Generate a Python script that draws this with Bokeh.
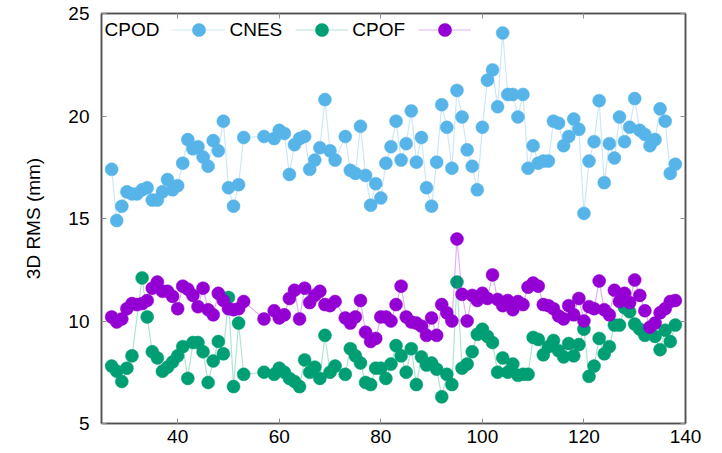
from bokeh.plotting import figure
from bokeh.models import (LinearAxis, FixedTicker, Range1d, Legend, LegendItem,
                          Label, CustomJSTickFormatter)
from bokeh.core.properties import value
from bokeh.embed import file_html
from bokeh.resources import INLINE

# ---------------- data ----------------
days = (list(range(27, 54)) + [57] + list(range(59, 72)) + list(range(73, 139)))
days_cnes = [d for d in days if d != 32]

cpod = [17.4, 14.9, 15.6, 16.3, 16.2, 16.2, 16.4, 16.5, 15.9, 15.9,
        16.3, 16.9, 16.4, 16.6, 17.7, 18.85, 18.4, 18.5, 18.0, 17.55,
        18.8, 18.3, 19.75, 16.5, 15.6, 16.65, 18.95,
        19.0,
        18.9, 19.3, 19.15, 17.15, 18.6, 18.9, 19.0, 17.4, 17.85, 18.45, 20.8, 18.3, 17.85,
        19.0, 17.35, 17.2, 19.5, 17.1, 15.65, 16.7, 16.0, 17.7, 18.5,
        19.75, 17.85, 18.65, 20.25, 17.75, 18.95, 16.5, 15.6, 17.75, 20.55,
        19.45, 17.45, 21.25, 19.95, 18.35, 17.55, 16.4, 19.45, 21.75, 22.25,
        20.45, 24.05, 21.05, 21.05, 19.95, 21.05, 17.45, 18.55, 17.7, 17.8,
        17.8, 19.75, 19.65, 18.55, 19.0, 19.85, 19.35, 15.25, 17.8, 18.75,
        20.75, 16.75, 18.65, 17.95, 19.95, 18.75, 19.45, 20.85, 19.3, 19.1,
        18.55, 18.85, 20.35, 19.75, 17.2, 17.65]

cnes = [7.8, 7.55, 7.05, 7.7, 8.3, 12.1, 10.2, 8.5, 8.2, 7.55,
        7.75, 8.0, 8.3, 8.75, 7.2, 8.95, 8.95, 8.5, 7.0, 8.05,
        9.0, 8.4, 11.15, 6.8, 9.9, 7.4,
        7.5,
        7.4, 7.7, 7.5, 7.2, 7.05, 6.8, 8.1, 7.5, 7.75, 7.2, 9.3, 7.5, 7.8,
        7.4, 8.65, 8.3, 7.95, 7.0, 6.9, 7.7, 7.7, 7.2, 7.9,
        8.8, 8.3, 7.5, 8.65, 6.9, 8.25, 7.85, 7.95, 7.65, 6.3,
        7.4, 6.9, 11.9, 7.7, 7.9, 8.5, 9.35, 9.6, 9.25, 8.95,
        7.5, 8.2, 7.5, 7.9, 7.35, 7.4, 7.4, 9.2, 9.1, 8.35,
        8.75, 9.05, 8.55, 8.25, 8.9, 8.3, 8.85, 9.6, 7.3, 7.8,
        9.15, 8.4, 8.75, 9.8, 9.8, 10.65, 10.45, 9.85, 9.6, 9.3,
        9.4, 9.25, 8.6, 9.55, 9.0, 9.8]

cpof = [10.2, 9.95, 10.1, 10.6, 10.85, 10.8, 10.85, 11.0, 11.6, 11.9,
        11.45, 11.45, 11.2, 10.6, 11.7, 11.55, 11.25, 10.7, 11.6, 10.55,
        10.3, 11.35, 11.0, 10.6, 10.55, 10.6, 10.95,
        10.1,
        10.5, 10.15, 10.3, 11.1, 11.5, 10.1, 11.6, 10.9, 11.25, 11.45, 10.8, 10.75, 10.95,
        10.15, 9.9, 10.2, 11.0, 9.45, 9.0, 9.15, 10.2, 10.2, 10.0,
        10.8, 11.7, 10.2, 9.95, 9.9, 9.75, 9.3, 10.15, 9.3, 10.8,
        10.4, 10.0, 14.0, 11.3, 10.0, 11.25, 11.0, 11.35, 11.1, 12.25,
        11.05, 10.75, 11.0, 10.55, 10.95, 10.8, 11.65, 11.85, 11.7, 10.8,
        10.75, 10.6, 10.25, 10.1, 10.75, 10.3, 11.1, 10.0, 10.7, 10.6,
        11.95, 10.55, 10.3, 11.5, 10.95, 11.35, 10.9, 12.0, 11.25, 10.5,
        9.7, 9.9, 10.4, 10.6, 10.95, 11.0]

series_names = ["CPOD", "CNES", "CPOF"]
series_colors = ["#56B4E9", "#009E73", "#9400D3"]
x_ticks = [40, 60, 80, 100, 120, 140]
y_ticks = [5, 10, 15, 20, 25]

FONT = "Liberation Sans"
FS = "19px"
AXIS_COLOR = "#505050"
TICK_COLOR = "#909090"

p = figure(width=722, height=453, output_backend="svg", toolbar_location=None,
           x_range=Range1d(25, 140), y_range=Range1d(5, 25),
           min_border_left=101, min_border_right=37,
           min_border_top=13, min_border_bottom=30,
           background_fill_color="white", border_fill_color="white")
p.xgrid.visible = False
p.ygrid.visible = False
p.outline_line_color = AXIS_COLOR
p.outline_line_width = 1.5

def style_axis(ax, labels=True):
    ax.axis_line_color = AXIS_COLOR
    ax.axis_line_width = 1.5
    ax.major_tick_in = 5
    ax.major_tick_out = 0
    ax.major_tick_line_color = TICK_COLOR
    ax.minor_tick_line_color = None
    ax.major_label_text_font = FONT
    ax.major_label_text_font_size = FS
    ax.major_label_text_color = "black"
    if not labels:
        ax.formatter = CustomJSTickFormatter(code="return ''")
        ax.major_label_text_font_size = "0px"
        ax.major_label_standoff = 0

p.xaxis.ticker = FixedTicker(ticks=x_ticks)
p.yaxis.ticker = FixedTicker(ticks=y_ticks)
style_axis(p.xaxis[0])
style_axis(p.yaxis[0])
p.xaxis.major_label_standoff = 6
p.yaxis.major_label_standoff = 12
p.yaxis.axis_label = "3D RMS (mm)"
p.yaxis.axis_label_text_font = FONT
p.yaxis.axis_label_text_font_size = FS
p.yaxis.axis_label_text_font_style = "normal"
p.yaxis.axis_label_text_color = "black"
p.yaxis.axis_label_standoff = 21

top_ax = LinearAxis(ticker=FixedTicker(ticks=x_ticks))
style_axis(top_ax, labels=False)
p.add_layout(top_ax, "above")
right_ax = LinearAxis(ticker=FixedTicker(ticks=y_ticks))
style_axis(right_ax, labels=False)
p.add_layout(right_ax, "right")

items = []
for xs, ys, name, col in [(days, cpod, "CPOD", series_colors[0]),
                          (days_cnes, cnes, "CNES", series_colors[1]),
                          (days, cpof, "CPOF", series_colors[2])]:
    lr = p.line(xs, ys, line_color=col, line_alpha=0.3, line_width=1.2)
    sr = p.scatter(xs, ys, size=13, fill_color=col, line_color=col, line_width=0.5)
    items.append(LegendItem(label=value(""), renderers=[lr, sr]))

legend = Legend(items=items, orientation="horizontal", location=(71, 377),
                glyph_width=53, glyph_height=33, label_width=0, label_standoff=0,
                spacing=70, padding=0, margin=0, border_line_color=None,
                background_fill_alpha=0, label_text_font_size="1px")
p.add_layout(legend)

for name, xpos in zip(series_names, [25.6, 50.2, 74.4]):
    p.add_layout(Label(x=xpos, y=24.24, text=name, text_font=FONT, text_color="black",
                       text_font_size=FS, text_baseline="middle", text_align="left"))

open("out.html", "w").write(file_html(p, INLINE))
